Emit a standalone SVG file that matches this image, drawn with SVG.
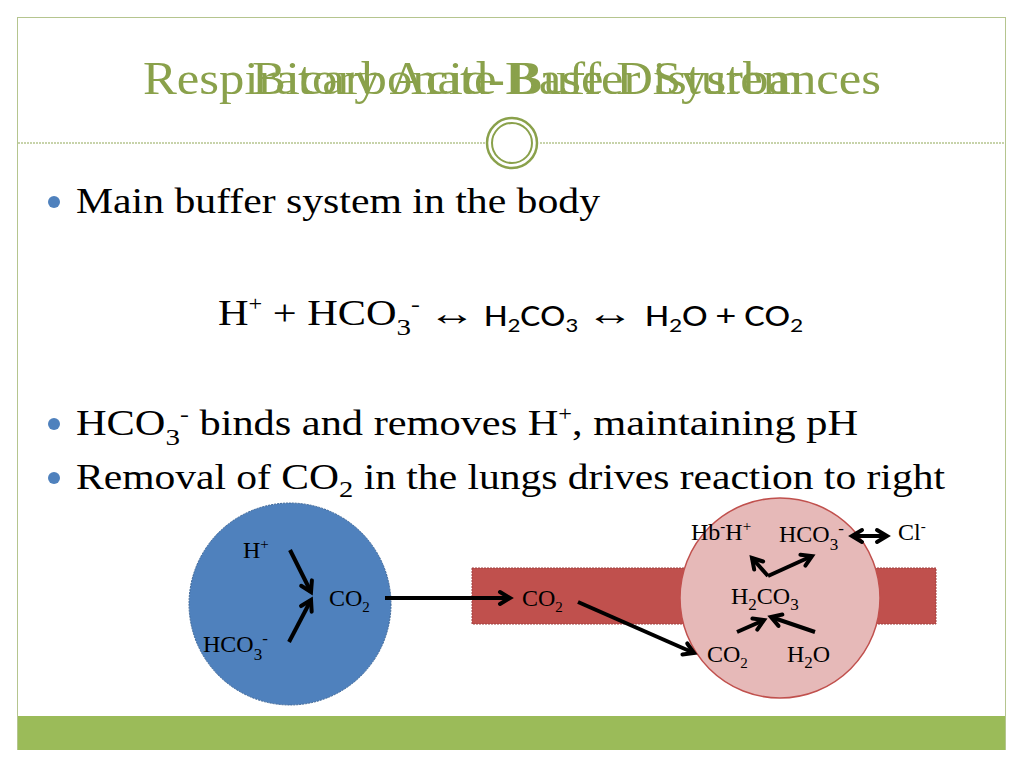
<svg xmlns="http://www.w3.org/2000/svg" width="1024" height="768" viewBox="0 0 1024 768">
<style>
.t{font-family:"Liberation Serif",serif;fill:#000}
.s{font-family:"Carlito","Liberation Sans",sans-serif;fill:#000}
.ttl{font-family:"Liberation Serif",serif;fill:#8aa14b;font-size:46px}
</style>
<defs>
<marker id="ah" viewBox="0 0 14 14" refX="12" refY="7" markerWidth="14" markerHeight="14" orient="auto-start-reverse" markerUnits="userSpaceOnUse" overflow="visible">
<path d="M2,1 L12,7 L2,13" fill="none" stroke="#000" stroke-width="4" stroke-linecap="round" stroke-linejoin="miter"/>
</marker>
</defs>
<rect width="1024" height="768" fill="#fff"/>
<rect x="17.5" y="17.5" width="988" height="732" fill="none" stroke="#b5c58f" stroke-width="1"/>
<rect x="18" y="716" width="987" height="34" fill="#9bbb59"/>
<line x1="18" y1="143" x2="485" y2="143" stroke="#b5c58f" stroke-width="1.5" stroke-dasharray="2,1"/>
<line x1="540" y1="143" x2="1005" y2="143" stroke="#b5c58f" stroke-width="1.5" stroke-dasharray="2,1"/>
<circle cx="512" cy="143" r="25" fill="#fff" stroke="#8aa14b" stroke-width="2.5"/>
<circle cx="512" cy="143" r="20" fill="none" stroke="#8aa14b" stroke-width="2"/>
<g id="title">
<text class="ttl" x="143" y="94" textLength="738" lengthAdjust="spacingAndGlyphs">Respiratory Acid-Base Disturbances</text>
<text class="ttl" x="252" y="94" textLength="550" lengthAdjust="spacingAndGlyphs">Bicarbonate Buffer System</text>
</g>
<g id="bullets">
<circle cx="54" cy="202" r="6" fill="#4f81bd"/>
<text class="t" x="76" y="213" font-size="35" textLength="524" lengthAdjust="spacingAndGlyphs">Main buffer system in the body</text>
<text class="t" x="218" y="325" font-size="35" textLength="202" lengthAdjust="spacingAndGlyphs">H<tspan font-size="20" dy="-14">+</tspan><tspan dy="14"> + HCO</tspan><tspan font-size="24" dy="10">3</tspan><tspan font-size="22" dy="-24">-</tspan></text>
<text class="t" x="428" y="325" font-size="35" textLength="48" lengthAdjust="spacingAndGlyphs">↔</text>
<text class="s" x="484" y="326" font-size="30" textLength="94" lengthAdjust="spacingAndGlyphs">H<tspan font-size="20" dy="6">2</tspan><tspan dy="-6">CO</tspan><tspan font-size="20" dy="6">3</tspan></text>
<text class="t" x="586" y="325" font-size="35" textLength="48" lengthAdjust="spacingAndGlyphs">↔</text>
<text class="s" x="645" y="326" font-size="30" textLength="158" lengthAdjust="spacingAndGlyphs">H<tspan font-size="20" dy="6">2</tspan><tspan dy="-6">O + CO</tspan><tspan font-size="20" dy="6">2</tspan></text>
<circle cx="54" cy="424" r="6" fill="#4f81bd"/>
<text class="t" x="76" y="435" font-size="35" textLength="782" lengthAdjust="spacingAndGlyphs">HCO<tspan font-size="24" dy="10">3</tspan><tspan font-size="22" dy="-24">-</tspan><tspan dy="14"> binds and removes H</tspan><tspan font-size="20" dy="-14">+</tspan><tspan dy="14">, maintaining pH</tspan></text>
<circle cx="54" cy="478" r="6" fill="#4f81bd"/>
<text class="t" x="76" y="489" font-size="35" textLength="869" lengthAdjust="spacingAndGlyphs">Removal of CO<tspan font-size="24" dy="8">2</tspan><tspan dy="-8"> in the lungs drives reaction to right</tspan></text>
</g>
<g id="tissue">
<circle cx="290" cy="604" r="101" fill="#4f81bd" stroke="#3a6496" stroke-width="1" stroke-dasharray="2,1"/>
<text class="t" x="243" y="558" font-size="24">H<tspan font-size="15" dy="-9">+</tspan></text>
<text class="t" x="329" y="606" font-size="24">CO<tspan font-size="15" dy="6">2</tspan></text>
<text class="t" x="203" y="652" font-size="24">HCO<tspan font-size="17" dy="8">3</tspan><tspan font-size="17" dy="-16">-</tspan></text>
</g>
<g id="capillary">
<rect x="472" y="568" width="464" height="56" fill="#c0504d" stroke="#a04040" stroke-width="1" stroke-dasharray="2,1"/>
<text class="t" x="522" y="606" font-size="24">CO<tspan font-size="15" dy="6">2</tspan></text>
</g>
<g id="rbc">
<circle cx="780" cy="598" r="100" fill="#e6b9b8" stroke="#c0504d" stroke-width="1.5"/>
<text class="t" x="691" y="540" font-size="24">Hb<tspan font-size="15" dy="-9">-</tspan><tspan dy="9">H</tspan><tspan font-size="15" dy="-9">+</tspan></text>
<text class="t" x="779" y="542" font-size="24">HCO<tspan font-size="17" dy="8">3</tspan><tspan font-size="17" dy="-16">-</tspan></text>
<text class="t" x="898" y="540" font-size="24">Cl<tspan font-size="15" dy="-9">-</tspan></text>
<text class="t" x="731" y="604" font-size="24">H<tspan font-size="17" dy="6">2</tspan><tspan dy="-6">CO</tspan><tspan font-size="17" dy="6">3</tspan></text>
<text class="t" x="707" y="662" font-size="24">CO<tspan font-size="15" dy="6">2</tspan></text>
<text class="t" x="787" y="662" font-size="24">H<tspan font-size="17" dy="6">2</tspan><tspan dy="-6">O</tspan></text>
</g>
<g id="connectors" stroke="#000" stroke-width="4" fill="none">
<line x1="290" y1="550" x2="311" y2="592" marker-end="url(#ah)"/>
<line x1="289" y1="642" x2="311" y2="600" marker-end="url(#ah)"/>
<line x1="385" y1="598" x2="510" y2="598" marker-end="url(#ah)"/>
<line x1="578" y1="602" x2="694" y2="653" marker-end="url(#ah)"/>
<line x1="737" y1="632" x2="764" y2="620" marker-end="url(#ah)"/>
<line x1="815" y1="632" x2="771" y2="617" marker-end="url(#ah)"/>
<line x1="768" y1="576" x2="752" y2="558" marker-end="url(#ah)"/>
<line x1="768" y1="576" x2="812" y2="556" marker-end="url(#ah)"/>
<line x1="852" y1="536" x2="887" y2="536" marker-end="url(#ah)" marker-start="url(#ah)"/>
</g>
</svg>
